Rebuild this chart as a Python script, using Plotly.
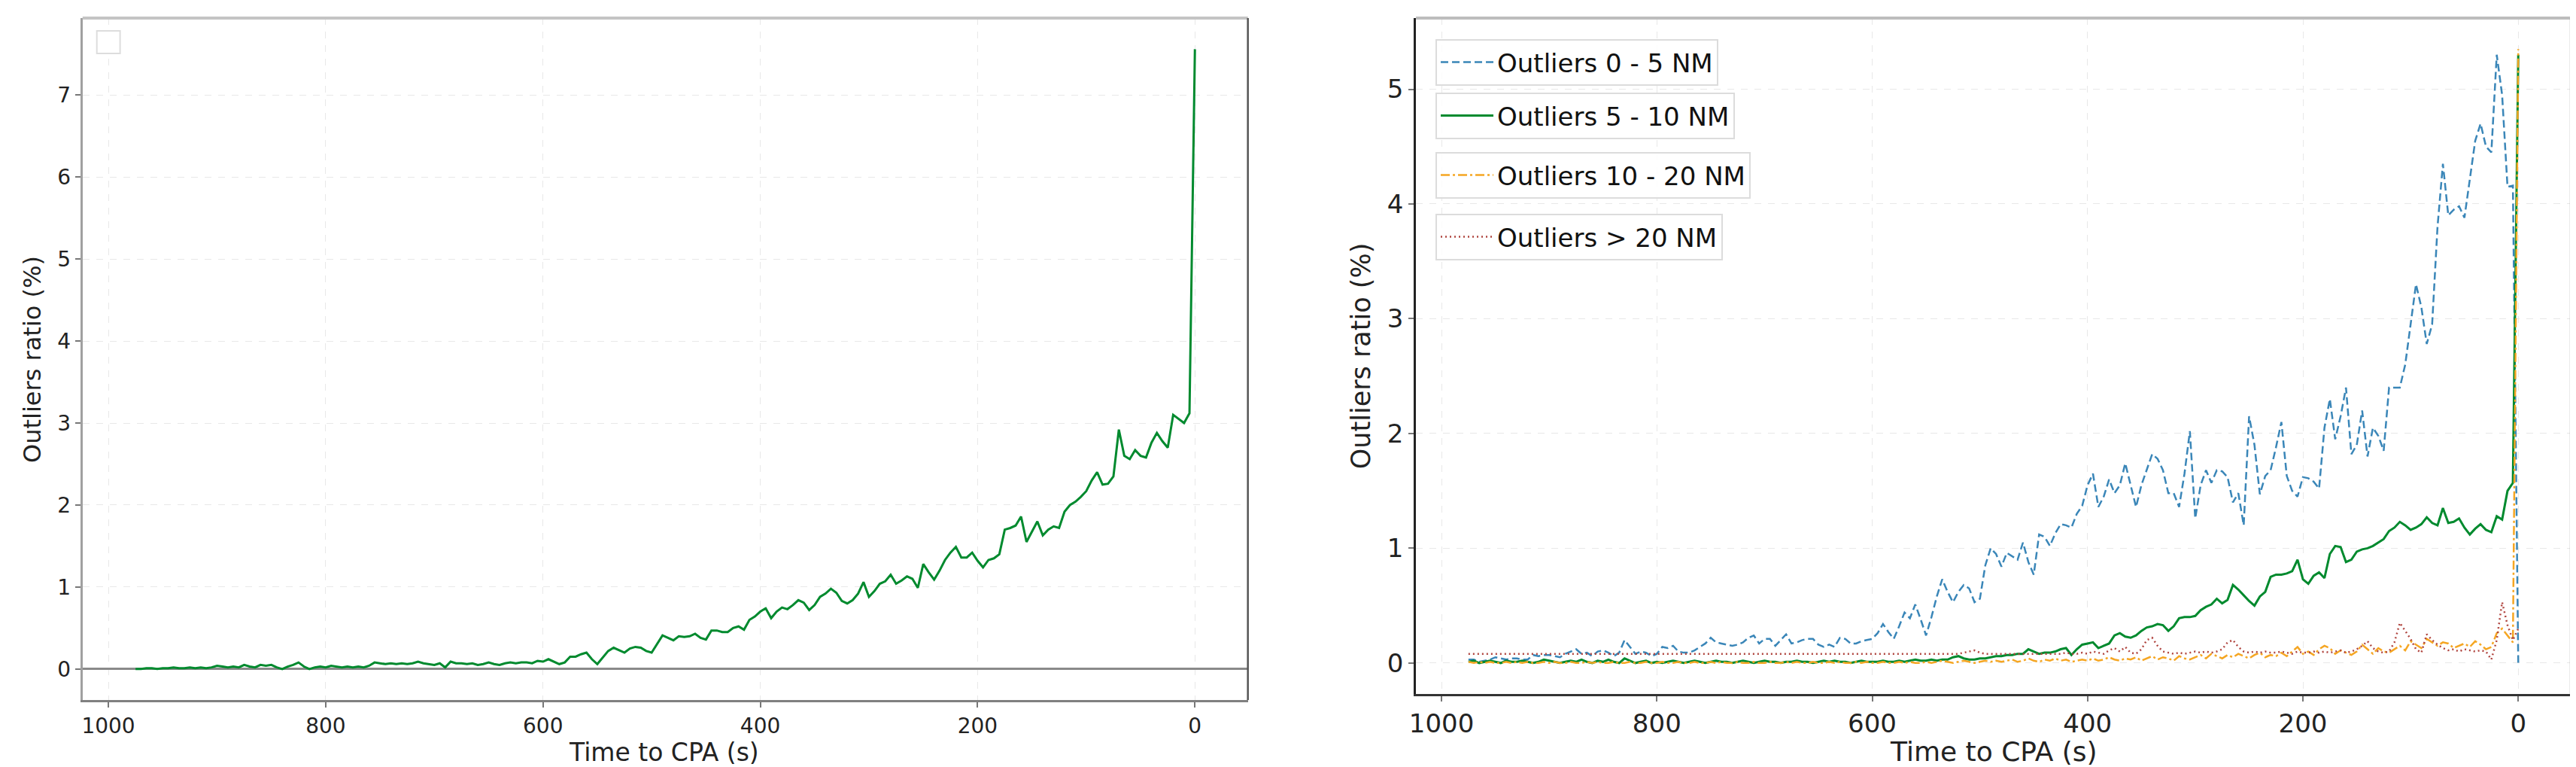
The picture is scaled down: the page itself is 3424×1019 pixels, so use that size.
import plotly.graph_objects as go

# time to CPA, sampled every 5 s from 975 s down to 0
time_s = list(range(975, -5, -5))

# left panel: overall outliers ratio (%)
outliers_all = [
    0.00, 0.00, 0.01, 0.01, 0.00, 0.01, 0.01, 0.02, 0.01, 0.01,
    0.02, 0.01, 0.02, 0.01, 0.02, 0.04, 0.03, 0.02, 0.03, 0.02,
    0.05, 0.03, 0.02, 0.05, 0.04, 0.05, 0.02, 0.00, 0.03, 0.05,
    0.08, 0.03, 0.00, 0.02, 0.03, 0.02, 0.04, 0.03, 0.02, 0.03,
    0.02, 0.03, 0.02, 0.04, 0.08, 0.07, 0.06, 0.07, 0.06, 0.07,
    0.06, 0.07, 0.09, 0.07, 0.06, 0.05, 0.07, 0.02, 0.09, 0.07,
    0.07, 0.06, 0.07, 0.05, 0.06, 0.08, 0.06, 0.05, 0.07, 0.08,
    0.07, 0.08, 0.08, 0.07, 0.10, 0.09, 0.12, 0.09, 0.06, 0.08,
    0.15, 0.15, 0.18, 0.20, 0.12, 0.06, 0.14, 0.22, 0.26, 0.23,
    0.20, 0.25, 0.27, 0.26, 0.22, 0.20, 0.30, 0.41, 0.38, 0.35,
    0.40, 0.39, 0.40, 0.43, 0.38, 0.36, 0.47, 0.47, 0.45, 0.45,
    0.50, 0.52, 0.48, 0.60, 0.64, 0.70, 0.74, 0.62, 0.70, 0.75,
    0.73, 0.78, 0.84, 0.81, 0.72, 0.78, 0.88, 0.92, 0.98, 0.93,
    0.83, 0.80, 0.84, 0.92, 1.06, 0.88, 0.95, 1.04, 1.07, 1.15,
    1.04, 1.08, 1.13, 1.10, 0.99, 1.28, 1.18, 1.09, 1.20, 1.33,
    1.42, 1.49, 1.36, 1.36, 1.42, 1.32, 1.24, 1.33, 1.35, 1.40,
    1.70, 1.72, 1.75, 1.86, 1.55, 1.68, 1.80, 1.63, 1.70, 1.74,
    1.72, 1.92, 2.00, 2.04, 2.10, 2.17, 2.30, 2.40, 2.25, 2.26,
    2.35, 2.92, 2.60, 2.56, 2.67, 2.60, 2.58, 2.76, 2.88, 2.78,
    2.70, 3.10, 3.05, 3.00, 3.12, 7.56,
]

# right panel: outliers ratio (%) by distance band
outliers_0_5 = [
    0.03, 0.03, 0.01, 0.02, 0.03, 0.05, 0.04, 0.03, 0.04, 0.04,
    0.03, 0.03, 0.07, 0.06, 0.07, 0.07, 0.06, 0.05, 0.08, 0.10,
    0.12, 0.08, 0.09, 0.06, 0.10, 0.11, 0.09, 0.06, 0.09, 0.20,
    0.14, 0.08, 0.10, 0.09, 0.06, 0.08, 0.14, 0.13, 0.15, 0.10,
    0.09, 0.09, 0.11, 0.14, 0.17, 0.22, 0.18, 0.17, 0.16, 0.15,
    0.16, 0.18, 0.22, 0.24, 0.17, 0.21, 0.21, 0.15, 0.20, 0.25,
    0.17, 0.18, 0.20, 0.21, 0.21, 0.16, 0.14, 0.16, 0.14, 0.22,
    0.21, 0.17, 0.17, 0.19, 0.20, 0.21, 0.26, 0.34, 0.27, 0.21,
    0.32, 0.44, 0.39, 0.51, 0.38, 0.24, 0.40, 0.58, 0.73, 0.62,
    0.53, 0.62, 0.68, 0.65, 0.53, 0.56, 0.85, 1.00, 0.95, 0.84,
    0.96, 0.93, 0.90, 1.05, 0.88, 0.77, 1.12, 1.10, 1.02, 1.13,
    1.21, 1.20, 1.18, 1.30, 1.37, 1.55, 1.65, 1.36, 1.45, 1.60,
    1.48, 1.55, 1.74, 1.55, 1.36, 1.55, 1.68, 1.82, 1.78, 1.68,
    1.48, 1.48, 1.36, 1.65, 2.02, 1.26, 1.55, 1.68, 1.57, 1.68,
    1.67, 1.62, 1.40, 1.48, 1.20, 2.15, 1.90, 1.47, 1.63, 1.68,
    1.88, 2.10, 1.63, 1.50, 1.45, 1.62, 1.61, 1.58, 1.52, 2.05,
    2.30, 1.95, 2.15, 2.40, 1.82, 1.90, 2.20, 1.80, 2.05, 1.98,
    1.85, 2.40, 2.40, 2.40, 2.60, 2.95, 3.30, 3.10, 2.78, 2.95,
    3.80, 4.35, 3.90, 3.95, 3.98, 3.88, 4.20, 4.55, 4.70, 4.50,
    4.45, 5.30, 4.95, 4.15, 4.16, 0.00,
]

outliers_5_10 = [
    0.01, 0.02, 0.00, 0.01, 0.02, 0.01, 0.00, 0.02, 0.01, 0.01,
    0.02, 0.01, 0.00, 0.01, 0.03, 0.02, 0.01, 0.00, 0.01, 0.02,
    0.01, 0.03, 0.01, 0.00, 0.02, 0.01, 0.03, 0.01, 0.00, 0.04,
    0.02, 0.00, 0.01, 0.02, 0.00, 0.01, 0.00, 0.01, 0.02, 0.01,
    0.00, 0.01, 0.02, 0.01, 0.00, 0.01, 0.02, 0.01, 0.01, 0.00,
    0.01, 0.02, 0.01, 0.00, 0.01, 0.02, 0.01, 0.01, 0.00, 0.01,
    0.01, 0.02, 0.01, 0.01, 0.00, 0.01, 0.02, 0.01, 0.02, 0.01,
    0.01, 0.00, 0.01, 0.02, 0.01, 0.01, 0.01, 0.02, 0.01, 0.01,
    0.02, 0.01, 0.02, 0.03, 0.02, 0.02, 0.03, 0.02, 0.03, 0.03,
    0.05, 0.06, 0.04, 0.03, 0.03, 0.04, 0.04, 0.05, 0.06, 0.06,
    0.07, 0.07, 0.08, 0.08, 0.12, 0.10, 0.08, 0.09, 0.09, 0.10,
    0.12, 0.13, 0.07, 0.12, 0.16, 0.17, 0.18, 0.13, 0.15, 0.17,
    0.24, 0.26, 0.23, 0.22, 0.24, 0.28, 0.31, 0.32, 0.34, 0.33,
    0.28, 0.32, 0.39, 0.40, 0.40, 0.41, 0.46, 0.49, 0.51, 0.56,
    0.52, 0.55, 0.68, 0.64, 0.59, 0.54, 0.50, 0.58, 0.62, 0.75,
    0.77, 0.77, 0.78, 0.80, 0.90, 0.73, 0.69, 0.76, 0.79, 0.74,
    0.95, 1.02, 1.01, 0.88, 0.90, 0.97, 0.99, 1.00, 1.02, 1.05,
    1.08, 1.15, 1.18, 1.23, 1.20, 1.16, 1.18, 1.21, 1.27, 1.22,
    1.20, 1.35, 1.22, 1.23, 1.26, 1.18, 1.12, 1.17, 1.21, 1.16,
    1.14, 1.28, 1.25, 1.50, 1.57, 5.30,
]

outliers_10_20 = [
    0.01, 0.00, 0.01, 0.00, 0.01, 0.00, 0.00, 0.01, 0.00, 0.01,
    0.00, 0.01, 0.00, 0.00, 0.01, 0.00, 0.01, 0.00, 0.00, 0.01,
    0.00, 0.00, 0.01, 0.00, 0.01, 0.00, 0.00, 0.01, 0.00, 0.00,
    0.01, 0.00, 0.00, 0.01, 0.00, 0.00, 0.01, 0.00, 0.00, 0.01,
    0.00, 0.00, 0.01, 0.00, 0.00, 0.01, 0.00, 0.01, 0.00, 0.00,
    0.01, 0.00, 0.00, 0.01, 0.00, 0.00, 0.01, 0.00, 0.00, 0.01,
    0.00, 0.01, 0.00, 0.00, 0.01, 0.00, 0.00, 0.01, 0.00, 0.01,
    0.00, 0.00, 0.01, 0.00, 0.01, 0.00, 0.00, 0.01, 0.00, 0.00,
    0.01, 0.00, 0.01, 0.00, 0.00, 0.01, 0.00, 0.01, 0.02, 0.01,
    0.00, 0.01, 0.02, 0.01, 0.00, 0.01, 0.02, 0.01, 0.02, 0.01,
    0.02, 0.03, 0.01, 0.02, 0.04, 0.02, 0.01, 0.03, 0.02, 0.04,
    0.02, 0.03, 0.01, 0.02, 0.03, 0.02, 0.04, 0.02, 0.03, 0.05,
    0.03, 0.02, 0.04, 0.03, 0.05, 0.02, 0.04, 0.06, 0.03, 0.05,
    0.04, 0.02, 0.06, 0.04, 0.03, 0.05, 0.07, 0.04, 0.08, 0.06,
    0.04, 0.07, 0.05, 0.08, 0.06, 0.04, 0.07, 0.09, 0.05, 0.07,
    0.06, 0.09, 0.06, 0.10, 0.14, 0.08, 0.10, 0.07, 0.12, 0.15,
    0.13, 0.08, 0.11, 0.09, 0.07, 0.10, 0.16, 0.12, 0.08, 0.13,
    0.10, 0.09, 0.12, 0.15, 0.11, 0.19, 0.16, 0.13, 0.21, 0.18,
    0.15, 0.18, 0.17, 0.13, 0.15, 0.17, 0.14, 0.19, 0.16, 0.12,
    0.14, 0.26, 0.30, 0.24, 0.18, 5.35,
]

outliers_20_plus = [
    0.08, 0.08, 0.08, 0.08, 0.08, 0.08, 0.08, 0.08, 0.08, 0.08,
    0.08, 0.08, 0.08, 0.08, 0.08, 0.08, 0.08, 0.08, 0.08, 0.08,
    0.08, 0.08, 0.08, 0.08, 0.08, 0.08, 0.08, 0.08, 0.08, 0.08,
    0.08, 0.08, 0.08, 0.08, 0.08, 0.08, 0.08, 0.08, 0.08, 0.08,
    0.08, 0.08, 0.08, 0.08, 0.08, 0.08, 0.08, 0.08, 0.08, 0.08,
    0.08, 0.08, 0.08, 0.08, 0.08, 0.08, 0.08, 0.08, 0.08, 0.08,
    0.08, 0.08, 0.08, 0.08, 0.08, 0.08, 0.08, 0.08, 0.08, 0.08,
    0.08, 0.08, 0.08, 0.08, 0.08, 0.08, 0.08, 0.08, 0.08, 0.08,
    0.08, 0.08, 0.08, 0.08, 0.08, 0.08, 0.08, 0.08, 0.08, 0.08,
    0.08, 0.08, 0.09, 0.10, 0.11, 0.09, 0.08, 0.08, 0.08, 0.08,
    0.08, 0.08, 0.08, 0.08, 0.08, 0.08, 0.08, 0.08, 0.08, 0.08,
    0.08, 0.09, 0.08, 0.08, 0.09, 0.08, 0.10, 0.09, 0.08, 0.11,
    0.13, 0.10, 0.14, 0.09, 0.08, 0.12, 0.20, 0.22, 0.15, 0.10,
    0.09, 0.08, 0.09, 0.08, 0.09, 0.10, 0.09, 0.10, 0.09, 0.10,
    0.12, 0.18, 0.20, 0.14, 0.10, 0.09, 0.10, 0.09, 0.10, 0.09,
    0.09, 0.10, 0.09, 0.08, 0.10, 0.09, 0.09, 0.10, 0.09, 0.10,
    0.09, 0.10, 0.11, 0.09, 0.10, 0.12, 0.15, 0.19, 0.13, 0.10,
    0.09, 0.10, 0.18, 0.35, 0.28, 0.21, 0.12, 0.09, 0.25, 0.20,
    0.16, 0.13, 0.11, 0.12, 0.10, 0.12, 0.11, 0.10, 0.11, 0.10,
    0.03, 0.20, 0.53, 0.33, 0.20, 0.30,
]

band_labels = ["Outliers 0 - 5 NM", "Outliers 5 - 10 NM",
               "Outliers 10 - 20 NM", "Outliers > 20 NM"]

for s in (outliers_all, outliers_0_5, outliers_5_10, outliers_10_20, outliers_20_plus):
    assert len(s) == len(time_s)

W, H = 3424, 1019
FONT = "DejaVu Sans"
GREEN = "#008a2e"


def px_x(p):
    return p / W


def px_y(p):
    return 1 - p / H


fig = go.Figure()

# left panel
fig.add_trace(go.Scatter(
    x=time_s, y=outliers_all, mode="lines", showlegend=False,
    line=dict(color=GREEN, width=3), xaxis="x", yaxis="y",
))

# right panel, one legend box per band
styles = [
    dict(color="#3a86b8", width=2.5, dash="10px,5px"),
    dict(color=GREEN, width=3),
    dict(color="#f5a623", width=2.5, dash="12px,4px,3px,4px"),
    dict(color="#b0453f", width=2.5, dash="2px,4px"),
]
series = [outliers_0_5, outliers_5_10, outliers_10_20, outliers_20_plus]
legend_ids = ["legend", "legend2", "legend3", "legend4"]
for vals, lab, st, lg in zip(series, band_labels, styles, legend_ids):
    fig.add_trace(go.Scatter(
        x=time_s, y=vals, mode="lines", name=lab, line=st,
        xaxis="x2", yaxis="y2", legend=lg,
    ))

axis_common = dict(
    showgrid=True, gridcolor="#e8e8e8", gridwidth=1.2, griddash="dash",
    ticks="outside", ticklen=7, tickwidth=2, tickcolor="#777",
    showline=True, zeroline=False,
)

fig.update_layout(
    width=W, height=H,
    margin=dict(l=0, r=0, t=0, b=0),
    paper_bgcolor="white", plot_bgcolor="white",
    font=dict(family=FONT, color="#222"),
    xaxis=dict(
        axis_common, domain=[px_x(93), px_x(1646)], anchor="y",
        range=[1023.75, -48.75], dtick=200, tick0=0,
        linecolor="#808080", linewidth=3,
        tickfont=dict(size=28),
    ),
    yaxis=dict(
        axis_common, domain=[px_y(922), px_y(16)], anchor="x",
        range=[-0.378, 7.94], dtick=1,
        linecolor="#a0a0a0", linewidth=3,
        zeroline=True, zerolinecolor="#8a8a8a", zerolinewidth=2.5,
        tickfont=dict(size=28),
    ),
    xaxis2=dict(
        axis_common, domain=[px_x(1870), px_x(3409)], anchor="y2",
        range=[1023.75, -48.75], dtick=200, tick0=0,
        linecolor="#333", linewidth=3,
        tickfont=dict(size=34),
    ),
    yaxis2=dict(
        axis_common, domain=[px_y(914), px_y(16)], anchor="x2",
        range=[-0.27, 5.62], dtick=1,
        linecolor="#222", linewidth=3,
        tickfont=dict(size=34),
    ),
)

legend_tops = [44, 115, 194, 276]
for lg, top in zip(legend_ids, legend_tops):
    fig.update_layout({lg: dict(
        x=px_x(1896), y=px_y(top), xanchor="left", yanchor="top",
        bgcolor="rgba(255,255,255,0.85)", bordercolor="#dcdcdc", borderwidth=2,
        font=dict(size=34, family=FONT, color="#111"), itemwidth=70,
    )})

# remaining frame sides
frame = [
    ("x domain", "y domain", 0, 1, 1, 1, "#c4c4c4", 4),
    ("x domain", "y domain", 1, 0, 1, 1, "#555555", 2.5),
    ("x2 domain", "y2 domain", 0, 1, 1, 1, "#bdbdbd", 4),
    ("x2 domain", "y2 domain", 1, 0, 1, 1, "#9a9a9a", 2.5),
]
for xr, yr, x0, y0, x1, y1, c, w in frame:
    fig.add_shape(type="line", xref=xr, yref=yr, x0=x0, y0=y0, x1=x1, y1=y1,
                  line=dict(color=c, width=w), layer="above")

# empty legend box of the left panel
fig.add_shape(type="rect", xref="paper", yref="paper",
              x0=px_x(112), x1=px_x(143), y0=px_y(63), y1=px_y(33),
              line=dict(color="#dddddd", width=2), fillcolor="white")

titles = [
    ("Outliers ratio (%)", 26, 469, 32, -90),
    ("Outliers ratio (%)", 1797, 465, 35, -90),
    ("Time to CPA (s)", 868, 991, 33, 0),
    ("Time to CPA (s)", 2640, 990, 36, 0),
]
for txt, xp, yp, size, ang in titles:
    fig.add_annotation(text=txt, xref="paper", yref="paper",
                       x=px_x(xp), y=px_y(yp), showarrow=False,
                       textangle=ang, font=dict(size=size, family=FONT, color="#222"),
                       xanchor="center", yanchor="middle")

fig.write_html("out.html", config={"displayModeBar": False})
